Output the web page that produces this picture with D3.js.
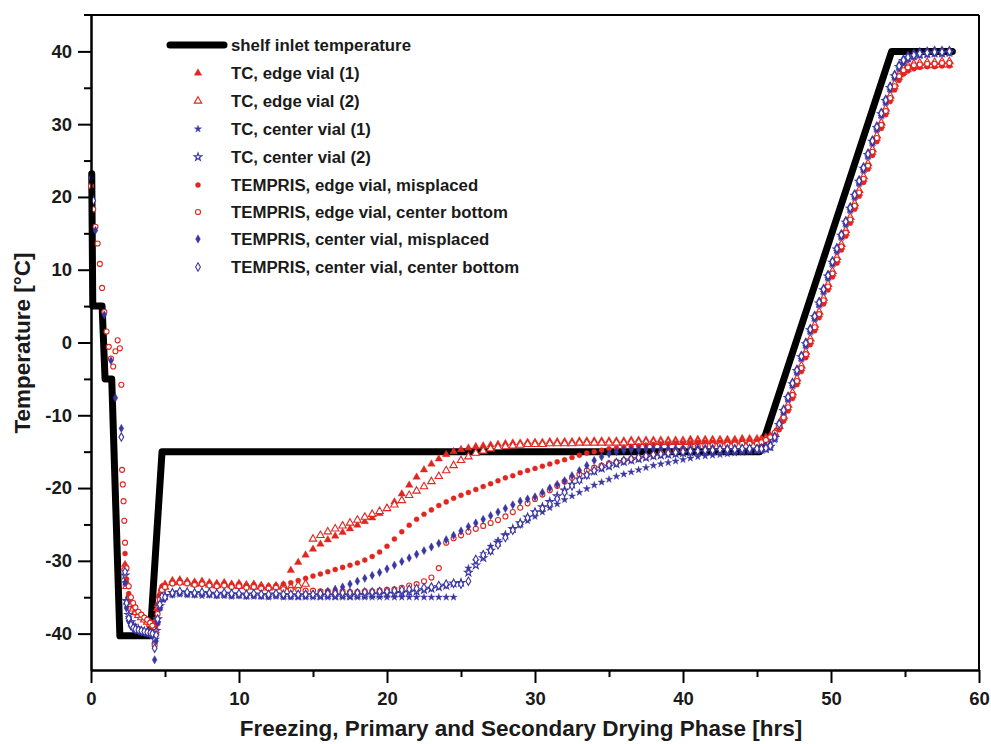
<!DOCTYPE html>
<html>
<head>
<meta charset="utf-8">
<script src="https://cdn.jsdelivr.net/npm/d3@7"></script>
<style>
  html, body { margin: 0; padding: 0; background: #fff; }
  svg { display: block; font-family: "Liberation Sans", Arial, sans-serif; }
</style>
</head>
<body>
<svg id="grafiek" width="991" height="744"></svg>
<script>
const _ = null; // geen meting op dat tijdstip

// tijdrooster [hrs]: invriezen, primair drogen, opwarmen + secundair drogen
const FREEZE_HRS = [
  0, 0.15, 0.3, 0.45, 0.6, 0.75, 0.9, 1.05, 1.2, 1.35, 1.5, 1.65,
  1.8, 1.95, 2.05, 2.1, 2.15, 2.2, 2.25, 2.3, 2.4, 2.55, 2.7, 2.85,
  3, 3.2, 3.4, 3.6, 3.8, 4, 4.15, 4.3, 4.4, 4.5, 4.65, 4.8
];
const DRY_HRS = [
  5, 5.5, 6, 6.5, 7, 7.5, 8, 8.5, 9, 9.5,
  10, 10.5, 11, 11.5, 12, 12.5, 13, 13.5, 14, 14.5,
  15, 15.5, 16, 16.5, 17, 17.5, 18, 18.5, 19, 19.5,
  20, 20.5, 21, 21.5, 22, 22.5, 23, 23.5, 24, 24.5,
  25, 25.5, 26, 26.5, 27, 27.5, 28, 28.5, 29, 29.5,
  30, 30.5, 31, 31.5, 32, 32.5, 33, 33.5, 34, 34.5,
  35, 35.5, 36, 36.5, 37, 37.5, 38, 38.5, 39, 39.5,
  40, 40.5, 41, 41.5, 42, 42.5, 43, 43.5, 44, 44.5,
  45
];
const END_HRS = [
  45.3, 45.6, 45.9, 46.2, 46.5, 46.8, 47.1, 47.4, 47.7, 48.0,
  48.3, 48.6, 48.9, 49.2, 49.5, 49.8, 50.1, 50.4, 50.7, 51.0,
  51.3, 51.6, 51.9, 52.2, 52.5, 52.8, 53.1, 53.4, 53.7, 54.0,
  54.3, 54.6, 54.9, 55.2, 55.6, 56.0, 56.5, 57.0, 57.5, 58.0
];
const HRS = FREEZE_HRS.concat(DRY_HRS, END_HRS);

// plaat inlaat temperatuur
const SHELF_HRS  = [0.05, 0.12, 0.75, 0.95, 1.4, 1.95, 4.0, 4.8, 45.2, 54.1, 58.2];
const SHELF_TEMP = [23.2, 5, 5, -5, -5, -40.3, -40.3, -15, -15, 40, 40];

const tcEdge1 = [
  _, _, _, _, _, _, _, _, _, _, _, _,
  _, _, _, _, _, _, _, -30.5, -33.0, -34.8, -35.8, -36.4,
  -36.9, -37.3, -37.6, -37.9, -38.2, -38.5, -38.7, -39.0, -38.0, -36.0, -34.5, -33.6,
  -33.2, -32.7, -32.6, -32.8, -32.9, -32.8, -33.0, -33.1, -33.0, -33.2,
  -33.1, -33.3, -33.2, -33.4, -33.5, -33.4, -33.3, -31.3, -30.2, -29.2,
  -28.4, -27.7, -27.1, -26.6, -26.1, -25.6, -25.1, -24.6, -24.1, -23.5,
  -22.8, -21.9, -20.8, -19.6, -18.5, -17.5, -16.7, -16.0, -15.4, -15.0,
  -14.7, -14.5, -14.3, -14.2, -14.1, -14.0, -13.9, -13.8, -13.8, -13.7,
  -13.7, -13.7, -13.6, -13.6, -13.6, -13.6, -13.5, -13.5, -13.5, -13.5,
  -13.5, -13.5, -13.5, -13.4, -13.4, -13.4, -13.4, -13.4, -13.4, -13.4,
  -13.4, -13.3, -13.3, -13.3, -13.3, -13.3, -13.3, -13.3, -13.2, -13.2,
  -13.2,
  -13.2, -13.0, -12.8, -12.4, -11.6, -10.4, -9.0, -7.3, -5.4, -3.6,
  -1.7, 0.1, 2.0, 3.8, 5.7, 7.6, 9.4, 11.3, 13.1, 15.0,
  16.8, 18.7, 20.5, 22.4, 24.2, 26.1, 28.0, 29.8, 31.7, 33.5,
  35.1, 36.4, 37.1, 37.5, 37.8, 37.9, 38.0, 38.0, 38.1, 38.1
];
const tcEdge2 = [
  _, _, _, _, _, _, _, _, _, _, _, _,
  _, _, _, _, _, _, _, -31.0, -33.5, -35.2, -36.0, -36.6,
  -37.1, -37.5, -37.8, -38.1, -38.4, -38.7, -39.0, -39.3, -38.4, -36.5, -34.8, -33.8,
  -33.6, -33.0, -32.9, -33.0, -33.2, -33.1, -33.3, -33.4, -33.2, -33.4,
  -33.5, -33.4, -33.6, -33.5, -33.7, -33.6, -33.5, -33.6, -33.4, -33.2,
  -27.0, -26.5, -26.0, -25.6, -25.2, -24.8, -24.4, -24.0, -23.6, -23.2,
  -22.8, -22.3, -21.7, -21.0, -20.4, -19.8, -19.1, -18.4, -17.6, -16.9,
  -16.2, -15.7, -15.2, -14.9, -14.6, -14.4, -14.3, -14.2, -14.1, -14.0,
  -14.0, -14.0, -13.9, -13.9, -13.9, -13.9, -13.8, -13.8, -13.8, -13.8,
  -13.8, -13.8, -13.8, -13.7, -13.7, -13.7, -13.7, -13.7, -13.7, -13.7,
  -13.7, -13.7, -13.6, -13.6, -13.6, -13.6, -13.6, -13.6, -13.6, -13.6,
  -13.5,
  -13.5, -13.3, -13.0, -12.5, -11.5, -10.1, -8.6, -6.9, -5.0, -3.2,
  -1.3, 0.5, 2.4, 4.2, 6.1, 8.0, 9.8, 11.7, 13.5, 15.4,
  17.2, 19.1, 20.9, 22.8, 24.6, 26.5, 28.4, 30.2, 32.1, 33.9,
  35.5, 36.8, 37.6, 38.0, 38.3, 38.4, 38.5, 38.5, 38.6, 38.6
];
const tcCenter1 = [
  _, _, _, _, _, _, _, _, _, _, _, _,
  _, _, _, _, _, _, _, -33.0, -36.0, -37.8, -38.7, -39.1,
  -39.4, -39.6, -39.8, -39.9, -40.0, -40.1, -40.2, -40.5, -40.0, -38.5, -36.5, -35.3,
  -35.0, -34.7, -34.6, -34.7, -34.7, -34.8, -34.7, -34.8, -34.8, -34.9,
  -34.8, -34.9, -34.9, -34.9, -35.0, -34.9, -35.0, -35.0, -35.0, -35.0,
  -35.0, -35.0, -35.0, -35.0, -35.0, -35.0, -35.0, -35.0, -35.0, -35.0,
  -35.0, -35.0, -35.0, -35.0, -35.0, -35.0, -35.0, -35.0, -35.0, -35.0,
  -33.0, -31.0, -30.0, -29.0, -28.0, -27.2, -26.4, -25.7, -25.1, -24.5,
  -23.9, -23.3, -22.7, -22.2, -21.6, -21.1, -20.6, -20.1, -19.6, -19.2,
  -18.8, -18.4, -18.1, -17.8, -17.5, -17.2, -16.9, -16.7, -16.5, -16.3,
  -16.1, -15.9, -15.7, -15.6, -15.5, -15.4, -15.3, -15.2, -15.1, -15.0,
  -14.9,
  -14.8, -14.7, -14.5, -13.4, -11.6, -9.7, -7.9, -6.0, -4.2, -2.3,
  -0.5, 1.4, 3.2, 5.1, 6.9, 8.8, 10.7, 12.5, 14.4, 16.2,
  18.1, 19.9, 21.8, 23.6, 25.5, 27.3, 29.2, 31.1, 32.9, 34.7,
  36.3, 37.6, 38.4, 38.9, 39.2, 39.4, 39.5, 39.6, 39.6, 39.7
];
const tcCenter2 = [
  _, _, _, _, _, _, _, _, _, _, _, _,
  _, _, _, _, _, _, _, -32.0, -35.5, -37.4, -38.4, -38.9,
  -39.2, -39.4, -39.6, -39.7, -39.8, -39.9, -40.0, -40.8, -39.6, -38.0, -36.2, -35.1,
  -34.8, -34.4, -34.3, -34.4, -34.5, -34.4, -34.5, -34.6, -34.5, -34.6,
  -34.6, -34.7, -34.6, -34.7, -34.7, -34.6, -34.7, -34.7, -34.8, -34.7,
  -34.7, -34.8, -34.7, -34.8, -34.7, -34.8, -34.7, -34.7, -34.6, -34.6,
  -34.5, -34.5, -34.4, -34.3, -34.2, -34.0, -33.8, -33.6, -33.4, -33.1,
  -33.0, -31.6, -30.6, -29.6, -28.6, -27.5, -26.5, -25.6, -24.8, -24.0,
  -23.3, -22.6, -21.9, -21.1, -20.3, -19.5, -18.8, -18.2, -17.7, -17.3,
  -17.0, -16.7, -16.4, -16.2, -16.0, -15.8, -15.6, -15.5, -15.4, -15.3,
  -15.2, -15.1, -15.0, -15.0, -14.9, -14.9, -14.8, -14.8, -14.8, -14.7,
  -14.7,
  -14.7, -14.6, -14.3, -13.1, -11.3, -9.4, -7.6, -5.7, -3.9, -2.0,
  -0.2, 1.7, 3.5, 5.4, 7.2, 9.1, 11.0, 12.8, 14.7, 16.5,
  18.4, 20.2, 22.1, 23.9, 25.8, 27.6, 29.5, 31.4, 33.2, 35.0,
  36.6, 37.9, 38.7, 39.1, 39.4, 39.6, 39.7, 39.8, 39.8, 39.9
];
const tempEdgeMis = [
  _, _, _, _, _, _, _, _, _, _, _, _,
  _, _, _, _, _, _, _, -29.0, -32.5, -34.5, -35.6, -36.2,
  -36.7, -37.1, -37.5, -37.8, -38.1, -38.4, -38.7, -40.0, -38.8, -36.8, -34.8, -33.5,
  -33.4, -32.9, -32.8, -32.9, -33.0, -33.0, -33.1, -33.2, -33.1, -33.3,
  -33.2, -33.4, -33.3, -33.5, -33.5, -33.4, -33.2, -33.0, -32.7, -32.4,
  -32.1, -31.8, -31.5, -31.2, -30.9, -30.6, -30.3, -29.9, -29.4, -28.8,
  -28.0, -27.0, -26.0, -25.1, -24.3, -23.6, -23.0, -22.4, -21.9, -21.4,
  -21.0, -20.6, -20.2, -19.8, -19.4, -19.0, -18.6, -18.3, -17.9, -17.6,
  -17.3, -17.0, -16.7, -16.4, -16.1, -15.8, -15.5, -15.2, -15.0, -14.8,
  -14.6, -14.5, -14.4, -14.3, -14.2, -14.1, -14.0, -13.9, -13.9, -13.8,
  -13.8, -13.8, -13.7, -13.7, -13.7, -13.7, -13.6, -13.6, -13.6, -13.6,
  -13.5,
  -13.5, -13.3, -13.1, -12.8, -12.0, -10.8, -9.4, -7.7, -5.8, -4.0,
  -2.1, -0.3, 1.6, 3.4, 5.3, 7.2, 9.0, 10.9, 12.7, 14.6,
  16.4, 18.3, 20.1, 22.0, 23.8, 25.7, 27.6, 29.4, 31.3, 33.1,
  34.7, 36.0, 36.9, 37.3, 37.6, 37.8, 37.9, 37.9, 38.0, 38.0
];
const tempEdgeBot = [
  21.5, 18.3, 15.9, 13.6, 10.8, 7.5, 4.2, 1.5, -0.6, -2.2, -3.3, -1.2,
  0.3, -0.8, -5.8, -17.5, -19.5, -21.8, -24.5, -27.5, -31.0, -33.5, -35.0, -35.8,
  -36.4, -37.0, -37.4, -37.8, -38.1, -38.5, -38.9, -41.6, -40.0, -37.3, -35.3, -34.0,
  -33.6, -33.1, -33.0, -33.1, -33.3, -33.2, -33.4, -33.5, -33.4, -33.6,
  -33.5, -33.7, -33.6, -33.8, -33.8, -33.7, -33.9, -34.0, -34.0, -34.1,
  -34.1, -34.2, -34.2, -34.3, -34.2, -34.3, -34.3, -34.2, -34.2, -34.1,
  -34.0, -33.9, -33.7, -33.4, -33.2, -32.8, -32.3, -31.0, -27.5, -26.9,
  -26.5, -26.0, -25.6, -25.2, -24.8, -24.4, -23.9, -23.3, -22.7, -22.1,
  -21.5, -20.9, -20.3, -19.7, -19.1, -18.6, -18.1, -17.6, -17.2, -16.9,
  -16.6, -16.4, -16.2, -16.0, -15.8, -15.6, -15.4, -15.2, -15.0, -14.8,
  -14.6, -14.4, -14.3, -14.2, -14.1, -14.1, -14.0, -14.0, -13.9, -13.9,
  -13.9,
  -13.7, -13.4, -13.0, -12.4, -11.5, -10.3, -8.9, -7.2, -5.3, -3.5,
  -1.6, 0.2, 2.1, 3.9, 5.8, 7.7, 9.5, 11.4, 13.2, 15.1,
  16.9, 18.8, 20.6, 22.5, 24.3, 26.2, 28.1, 29.9, 31.8, 33.6,
  35.2, 36.6, 37.4, 37.8, 38.1, 38.2, 38.3, 38.3, 38.4, 38.4
];
const tempCenterMis = [
  22.6, _, 15.4, _, _, _, 3.8, _, _, -2.5, _, -7.6,
  _, _, -11.8, _, _, _, _, -33.0, -36.5, -38.3, -39.0, -39.3,
  -39.5, -39.6, -39.7, -39.8, -39.9, -40.0, -40.1, -43.6, -41.0, -38.5, -36.5, -35.2,
  -35.2, -34.6, -34.4, -34.5, -34.6, -34.5, -34.6, -34.7, -34.6, -34.7,
  -34.7, -34.8, -34.7, -34.8, -34.8, -34.7, -34.8, -34.8, -34.7, -34.7,
  -34.6, -34.4, -34.2, -33.9, -33.6, -33.2, -32.8, -32.4, -32.0, -31.6,
  -31.1, -30.6, -30.1, -29.6, -29.1, -28.6, -28.1, -27.6, -27.1, -26.5,
  -25.9, -25.3, -24.8, -24.3, -23.8, -23.3, -22.8, -22.3, -21.8, -21.5,
  -21.2, -20.6, -20.0, -19.5, -19.0, -18.3, -17.6, -16.9, -16.2, -15.7,
  -15.3, -15.0, -14.8, -14.7, -14.7, -14.6, -14.6, -14.6, -14.6, -14.6,
  -14.6, -14.6, -14.5, -14.5, -14.5, -14.5, -14.5, -14.5, -14.5, -14.5,
  -14.5,
  -14.4, -14.2, -13.9, -12.8, -11.0, -9.1, -7.3, -5.4, -3.6, -1.7,
  0.1, 2.0, 3.8, 5.7, 7.5, 9.4, 11.3, 13.1, 15.0, 16.8,
  18.7, 20.5, 22.4, 24.2, 26.1, 27.9, 29.8, 31.7, 33.5, 35.3,
  36.9, 38.2, 39.0, 39.5, 39.8, 40.0, 40.1, 40.2, 40.2, 40.2
];
const tempCenterBot = [
  _, 19.5, _, _, _, _, _, _, _, _, _, _,
  _, _, -13.0, _, _, _, _, -31.5, -35.8, -37.9, -38.8, -39.2,
  -39.4, -39.5, -39.6, -39.7, -39.8, -39.9, -40.0, -42.0, -40.2, -38.0, -36.0, -34.9,
  -35.0, -34.4, -34.2, -34.3, -34.4, -34.3, -34.4, -34.5, -34.4, -34.5,
  -34.5, -34.6, -34.5, -34.6, -34.6, -34.5, -34.6, -34.6, -34.6, -34.6,
  -34.6, -34.5, -34.5, -34.5, -34.4, -34.4, -34.4, -34.3, -34.3, -34.2,
  -34.2, -34.1, -34.0, -33.9, -33.8, -33.7, -33.6, -33.4, -33.2, -33.1,
  -33.2, -32.8, -29.8, -29.2, -28.6, -27.8, -26.8, -25.8, -24.9, -24.1,
  -23.4, -22.8, -22.2, -21.5, -20.6, -19.7, -18.9, -18.2, -17.6, -17.1,
  -16.8, -16.5, -16.2, -16.0, -15.8, -15.6, -15.4, -15.3, -15.2, -15.1,
  -15.0, -14.9, -14.9, -14.8, -14.8, -14.7, -14.7, -14.7, -14.6, -14.6,
  -14.6,
  -14.6, -14.5, -14.2, -13.0, -11.2, -9.3, -7.5, -5.6, -3.8, -1.9,
  -0.1, 1.8, 3.6, 5.5, 7.3, 9.2, 11.1, 12.9, 14.8, 16.6,
  18.5, 20.3, 22.2, 24.0, 25.9, 27.7, 29.6, 31.5, 33.3, 35.1,
  36.7, 38.0, 38.8, 39.2, 39.5, 39.7, 39.8, 39.9, 39.9, 40.0
];

const LABELS = [
  'shelf inlet temperature',
  'TC, edge vial (1)',
  'TC, edge vial (2)',
  'TC, center vial (1)',
  'TC, center vial (2)',
  'TEMPRIS, edge vial, misplaced',
  'TEMPRIS, edge vial, center bottom',
  'TEMPRIS, center vial, misplaced',
  'TEMPRIS, center vial, center bottom'
];
const X_TICKS = [0, 10, 20, 30, 40, 50, 60];
const X_MINOR = [5, 15, 25, 35, 45, 55];
const Y_TICKS = [-40, -30, -20, -10, 0, 10, 20, 30, 40];
const Y_MINOR = [-35, -25, -15, -5, 5, 15, 25, 35];

const ROOD = '#e2261f';
const BLAUW = '#3a36a2';

const reeksen = [
  { waarden: tcEdge1,       vorm: d3.symbolTriangle, open: false, kleur: ROOD,  grootte: 24 },
  { waarden: tcEdge2,       vorm: d3.symbolTriangle, open: true,  kleur: ROOD,  grootte: 24 },
  { waarden: tcCenter1,     vorm: d3.symbolStar,     open: false, kleur: BLAUW, grootte: 16 },
  { waarden: tcCenter2,     vorm: d3.symbolStar,     open: true,  kleur: BLAUW, grootte: 18 },
  { waarden: tempEdgeMis,   vorm: d3.symbolCircle,   open: false, kleur: ROOD,  grootte: 20 },
  { waarden: tempEdgeBot,   vorm: d3.symbolCircle,   open: true,  kleur: ROOD,  grootte: 20 },
  { waarden: tempCenterMis, vorm: d3.symbolDiamond,  open: false, kleur: BLAUW, grootte: 20 },
  { waarden: tempCenterBot, vorm: d3.symbolDiamond,  open: true,  kleur: BLAUW, grootte: 20 },
];

const svg = d3.select('#grafiek');
const x = d3.scaleLinear().domain([0, 60]).range([91, 979]);
const y = d3.scaleLinear().domain([-45, 45]).range([670, 15]);

// plaat temperatuur
const lijn = d3.line().x(d => x(d[0])).y(d => y(d[1]));
svg.append('path')
  .datum(d3.zip(SHELF_HRS, SHELF_TEMP))
  .attr('d', lijn)
  .attr('fill', 'none')
  .attr('stroke', '#000')
  .attr('stroke-width', 7)
  .attr('stroke-linejoin', 'round')
  .attr('stroke-linecap', 'round');

function tekenSymbool(sel, r) {
  sel.attr('d', d3.symbol().type(r.vorm).size(r.grootte))
    .attr('fill', r.open ? '#fff' : r.kleur)
    .attr('stroke', r.kleur)
    .attr('stroke-width', r.open ? 1.1 : 0.4);
}

reeksen.forEach(r => {
  const punten = HRS.map((h, i) => [h, r.waarden[i]]).filter(d => d[1] != null);
  svg.append('g').selectAll('path')
    .data(punten)
    .join('path')
    .attr('transform', d => `translate(${x(d[0])},${y(d[1])})`)
    .call(tekenSymbool, r);
});

// assen
function stijlAs(g) {
  g.select('.domain').attr('stroke', '#000').attr('stroke-width', 2);
  g.selectAll('.tick line').attr('stroke', '#000').attr('stroke-width', 2);
  g.selectAll('.tick text')
    .attr('fill', '#1a1a1a')
    .style('font-size', '18.5px')
    .style('font-weight', 'bold');
}
const label = d => String(d); // gewoon koppelteken als minteken

svg.append('g')
  .attr('transform', `translate(0,${y(-45)})`)
  .call(d3.axisBottom(x).tickValues(X_MINOR).tickSize(7).tickSizeOuter(0).tickFormat(''))
  .call(stijlAs);
svg.append('g')
  .attr('transform', `translate(0,${y(-45)})`)
  .call(d3.axisBottom(x).tickValues(X_TICKS).tickSize(13).tickSizeOuter(0).tickPadding(9).tickFormat(label))
  .call(stijlAs);

svg.append('g')
  .attr('transform', `translate(${x(0)},0)`)
  .call(d3.axisLeft(y).tickValues(Y_MINOR).tickSize(7).tickSizeOuter(0).tickFormat(''))
  .call(stijlAs);
svg.append('g')
  .attr('transform', `translate(${x(0)},0)`)
  .call(d3.axisLeft(y).tickValues(Y_TICKS).tickSize(13).tickSizeOuter(0).tickPadding(6).tickFormat(label))
  .call(stijlAs);

// kader boven en rechts
svg.append('line')
  .attr('x1', x(0) - 7).attr('x2', x(60))
  .attr('y1', y(45)).attr('y2', y(45))
  .attr('stroke', '#000').attr('stroke-width', 2);
svg.append('line')
  .attr('x1', x(60)).attr('x2', x(60))
  .attr('y1', y(45)).attr('y2', y(-45))
  .attr('stroke', '#000').attr('stroke-width', 2);

// as titels
svg.append('text')
  .attr('x', 521)
  .attr('y', 736)
  .attr('text-anchor', 'middle')
  .style('font-size', '22.5px')
  .style('font-weight', 'bold')
  .attr('fill', '#1a1a1a')
  .text('Freezing, Primary and Secondary Drying Phase [hrs]');

svg.append('text')
  .attr('transform', 'translate(30,343) rotate(-90)')
  .attr('text-anchor', 'middle')
  .style('font-size', '22.5px')
  .style('font-weight', 'bold')
  .attr('fill', '#1a1a1a')
  .text('Temperature [°C]');

// legenda
const legenda = svg.append('g');
const rijY = [45, 73, 101, 129, 157, 185, 212, 239, 267];

legenda.append('line')
  .attr('x1', 170).attr('x2', 224)
  .attr('y1', rijY[0]).attr('y2', rijY[0])
  .attr('stroke', '#000').attr('stroke-width', 7)
  .attr('stroke-linecap', 'round');

reeksen.forEach((r, i) => {
  legenda.append('path')
    .attr('transform', `translate(198,${rijY[i + 1]})`)
    .call(tekenSymbool, r);
});

LABELS.forEach((t, i) => {
  legenda.append('text')
    .attr('x', 231)
    .attr('y', rijY[i] + 5.5)
    .style('font-size', '16.8px')
    .style('font-weight', 'bold')
    .attr('fill', '#1a1a1a')
    .text(t);
});
</script>
</body>
</html>
